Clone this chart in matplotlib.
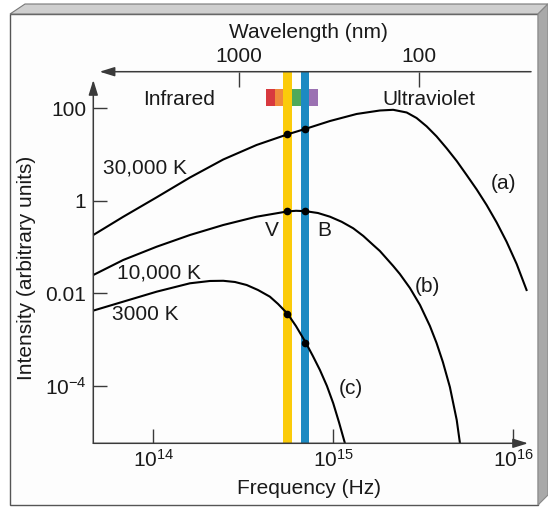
import numpy as np
import matplotlib
matplotlib.use("Agg")
import matplotlib.pyplot as plt
from matplotlib.patches import Polygon

plt.rcParams['font.family'] = ['Liberation Sans', 'DejaVu Sans']
plt.rcParams['mathtext.fontset'] = 'custom'
plt.rcParams['mathtext.rm'] = 'Liberation Sans'
plt.rcParams['mathtext.it'] = 'Liberation Sans:italic'
plt.rcParams['mathtext.bf'] = 'Liberation Sans:bold'

# blackbody curves: log10(frequency / Hz), log10(intensity)
a_logf = [13.667, 13.833, 14.019, 14.204, 14.389, 14.574, 14.744, 14.847, 14.982,
          15.130, 15.259, 15.333, 15.408, 15.463, 15.519, 15.574, 15.630, 15.686,
          15.741, 15.797, 15.852, 15.908, 15.963, 16.019, 16.074]
a_logi = [-0.741, -0.348, 0.073, 0.501, 0.890, 1.203, 1.430, 1.553, 1.721,
          1.873, 1.948, 1.963, 1.905, 1.786, 1.605, 1.389, 1.132, 0.857,
          0.555, 0.242, -0.093, -0.471, -0.886, -1.367, -1.929]

b_logf = [13.667, 13.833, 14.019, 14.204, 14.389, 14.574, 14.744, 14.793, 14.847,
          14.915, 14.982, 15.047, 15.111, 15.167, 15.222, 15.259, 15.333, 15.370,
          15.426, 15.482, 15.537, 15.574, 15.609, 15.648, 15.686, 15.704]
b_logi = [-1.605, -1.281, -0.994, -0.741, -0.525, -0.346, -0.233, -0.218, -0.227,
          -0.266, -0.346, -0.456, -0.596, -0.762, -0.957, -1.086, -1.410, -1.583,
          -1.886, -2.253, -2.706, -3.074, -3.484, -4.024, -4.737, -5.240]

c_logf = [13.667, 13.833, 14.019, 14.204, 14.315, 14.389, 14.454, 14.519, 14.582,
          14.648, 14.693, 14.746, 14.793, 14.847, 14.887, 14.926, 14.965, 15.000,
          15.032, 15.065]
c_logi = [-2.374, -2.181, -1.965, -1.784, -1.734, -1.730, -1.756, -1.821, -1.929,
          -2.073, -2.229, -2.441, -2.708, -3.063, -3.356, -3.657, -4.002, -4.376,
          -4.786, -5.240]

curve_labels = ['30,000 K', '10,000 K', '3000 K']
curve_tags = ['(a)', '(b)', '(c)']

# V and B filter bands (Hz) and the dots where curves cross them
V_band = (5.26e14, 5.90e14)
B_band = (6.62e14, 7.33e14)
dot_logf = [14.745, 14.845]
dot_logi = {'a': [1.430, 1.553], 'b': [-0.233, -0.227], 'c': [-2.441, -3.063]}

# visible spectrum strip
spec_edges = [4.23e14, 4.72e14, 5.28e14, 5.90e14, 6.59e14, 7.36e14, 8.23e14]
spec_colors = ['#d8393f', '#f08a3b', '#f6c945', '#4fa95a', '#2f9bd0', '#9b71b2']

# top axis
wl_ticks = [1000, 100]  # nm
c_nm = 3e17  # speed of light in nm/s

x_ticks = [1e14, 1e15, 1e16]
x_ticklabels = [r'$10^{14}$', r'$10^{15}$', r'$10^{16}$']
y_ticks = [100, 1, 0.01, 1e-4]
y_ticklabels = ['100', '1', '0.01', r'$10^{-4}$']

W, H = 548, 508


def fpx(x, y):
    return (x / W, 1 - y / H)


fig = plt.figure(figsize=(W / 100, H / 100), dpi=100)
fig.patch.set_facecolor('white')

# 3d box frame around the panel
front = Polygon([fpx(10, 14), fpx(538, 14), fpx(538, 505), fpx(10, 505)],
                closed=True, transform=fig.transFigure, facecolor='#fdfdfd',
                edgecolor='#555555', lw=1.0, zorder=-10)
top = Polygon([fpx(10, 14), fpx(25, 4), fpx(548, 4), fpx(538, 14)],
              closed=True, transform=fig.transFigure, facecolor='#cfcfcf',
              edgecolor='#777777', lw=0.8, zorder=-9)
right = Polygon([fpx(538, 14), fpx(548, 4), fpx(548, 495), fpx(538, 505)],
                closed=True, transform=fig.transFigure, facecolor='#a9a9a9',
                edgecolor='#888888', lw=0.8, zorder=-9)
for p in (front, top, right):
    fig.add_artist(p)

ax = fig.add_axes([93.3 / W, (H - 443.3) / H, (528 - 93.3) / W, (443.3 - 71.7) / H])
ax.set_facecolor('none')
ax.set_xscale('log')
ax.set_yscale('log')
ax.set_xlim(10 ** 13.667, 10 ** 16.082)
ax.set_ylim(10 ** -5.24, 10 ** 2.786)

for s in ax.spines.values():
    s.set_visible(False)

# spectrum strip and filter bands
for lo, hi, col in zip(spec_edges[:-1], spec_edges[1:], spec_colors):
    ax.axvspan(lo, hi, ymin=0.9077, ymax=0.9535, color=col, lw=0, zorder=1)
ax.axvspan(*V_band, color='#fbcb0a', lw=0, zorder=2)
ax.axvspan(*B_band, color='#1c8ac2', lw=0, zorder=2)

# curves
for lf, li in [(a_logf, a_logi), (b_logf, b_logi), (c_logf, c_logi)]:
    ax.plot(10 ** np.array(lf), 10 ** np.array(li), color='black', lw=1.5,
            solid_joinstyle='round', zorder=3)
for k in ['a', 'b', 'c']:
    ax.plot(10 ** np.array(dot_logf), 10 ** np.array(dot_logi[k]), 'o', color='black',
            ms=4.5, zorder=4)

# axis lines with arrows
arrow = dict(arrowstyle='-|>,head_length=0.9,head_width=0.28', color='#3a3a3a',
             lw=1.1, mutation_scale=10, shrinkA=0, shrinkB=0)
ax.annotate('', xy=(1.0, 0), xytext=(0, 0), xycoords='axes fraction', arrowprops=arrow)
ax.annotate('', xy=(0, 0.9777), xytext=(0, 0), xycoords='axes fraction', arrowprops=arrow)
ax.annotate('', xy=(0.0145, 1.0), xytext=(1.007, 1.0), xycoords='axes fraction',
            arrowprops=arrow)

ax.minorticks_off()
ax.set_xticks(x_ticks)
ax.set_xticklabels(x_ticklabels)
ax.set_yticks(y_ticks)
ax.set_yticklabels(y_ticklabels)
ax.tick_params(axis='both', which='both', direction='in', length=10, width=1.0,
               color='#3a3a3a', labelcolor='#1a1a1a', labelsize=15)
ax.tick_params(axis='x', pad=4)
ax.tick_params(axis='y', pad=5)
ax.minorticks_off()

secax = ax.secondary_xaxis('top', functions=(lambda f: c_nm / f, lambda l: c_nm / l))
secax.set_xticks(wl_ticks)
secax.set_xticklabels([str(w) for w in wl_ticks])
secax.minorticks_off()
secax.spines['top'].set_visible(False)
secax.tick_params(direction='in', length=11, width=1.0, color='#3a3a3a',
                  labelcolor='#1a1a1a', labelsize=15, pad=4)

# labels
tc = '#1a1a1a'
ax.text(5.26e13, 5.0, curve_labels[0], fontsize=15, color=tc, ha='left', va='center')
ax.text(6.28e13, 0.027, curve_labels[1], fontsize=15, color=tc, ha='left', va='center')
ax.text(5.9e13, 0.0034, curve_labels[2], fontsize=15, color=tc, ha='left', va='center')
ax.text(8.87e15, 2.38, curve_tags[0], fontsize=15, color=tc, ha='center', va='center')
ax.text(3.33e15, 0.0139, curve_tags[1], fontsize=15, color=tc, ha='center', va='center')
ax.text(1.26e15, 8.9e-5, curve_tags[2], fontsize=15, color=tc, ha='center', va='center')
ax.text(4.56e14, 0.225, 'V', fontsize=15, color=tc, ha='center', va='center')
ax.text(8.93e14, 0.225, 'B', fontsize=15, color=tc, ha='center', va='center')
ax.text(1.39e14, 157, 'Infrared', fontsize=15, color=tc, ha='center', va='center')
ax.text(3.42e15, 157, 'Ultraviolet', fontsize=15, color=tc, ha='center', va='center')

fig.text(*fpx(309, 488), 'Frequency (Hz)', fontsize=15, color=tc, ha='center', va='center')
fig.text(*fpx(308.6, 32), 'Wavelength (nm)', fontsize=15, color=tc, ha='center', va='center')
fig.text(*fpx(27, 267.5), 'Intensity (arbitrary units)', fontsize=15, color=tc,
         ha='center', va='center', rotation=90)

fig.savefig('out.png', dpi=100)
